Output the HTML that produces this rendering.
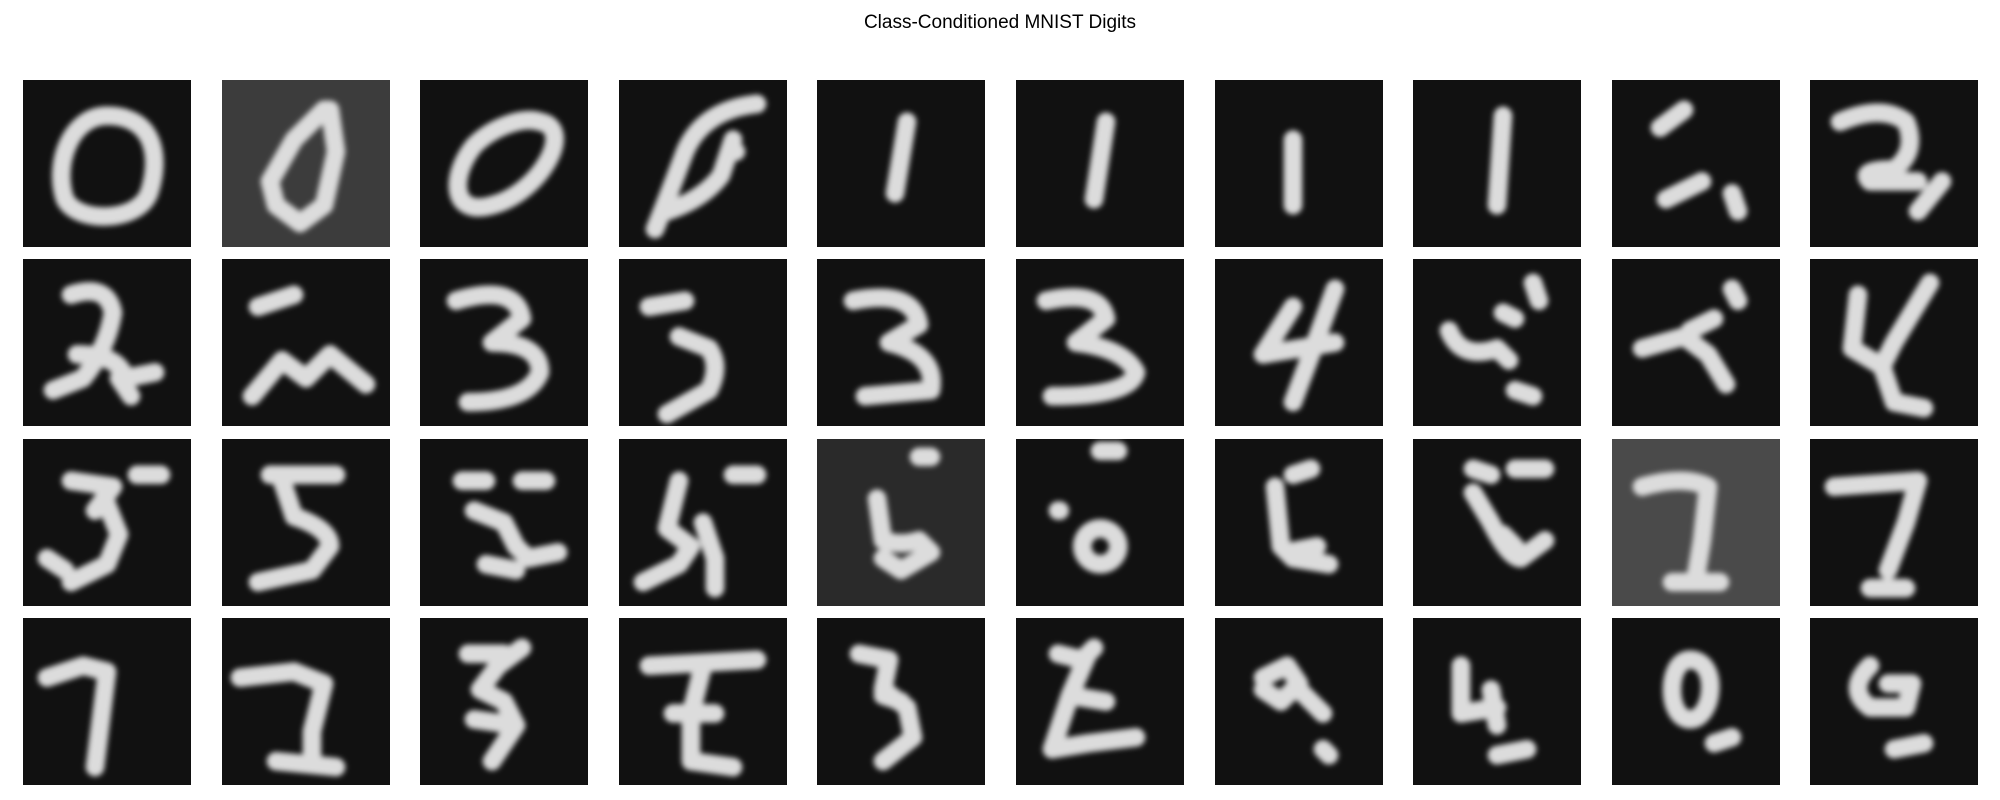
<!DOCTYPE html>
<html><head><meta charset="utf-8">
<style>
html,body{margin:0;padding:0;background:#fff;}
#wrap{position:relative;width:2000px;height:800px;overflow:hidden;background:#fff;font-family:"Liberation Sans",sans-serif;}
#title{position:absolute;left:0;width:2000px;top:12px;text-align:center;font-size:19px;color:#000;}
svg.tile{position:absolute;width:168px;height:167px;}
</style></head>
<body>
<div id="wrap">
<div id="title">Class-Conditioned MNIST Digits</div>
</div>
<script>
const digitPaths = [
 ["M14,6 C22,6 23,13 21,19 C19,24 9,24 7,20 C5,14 8,6 14,6 Z","M17,5 L12,10 L8,17 L9,21 L13,24 L17,21 L19,12 L18,5 Z","M20,7 C26,8 20,19 12,21 C5,23 5,16 9,11 C12,8 17,6 20,7 Z","M23,4 Q14,5 11,12 Q8,20 6,25 M8,22 Q14,20 17,16 L19,10 M19,12 L19.5,12","M15,7 L13,19","M15,7 L13,20","M13,10 L13,21","M15,6 L14,21","M8,8 L12,5 M9,20 L15,17 M20,19 L21,22","M5,7 Q12,4 16,7 Q18,12 14,15 Q8,15 10,17 L18,17 M18,22 L22,17"],
 ["M8,6 Q14,4 15,9 Q14,15 10,20 L5,22 M9,16 Q16,16 17,20 L22,19 M16,20 L18,23","M6,8 L12,6 M5,23 L10,17 L14,20 L18,16 L24,21","M6,7 Q16,4 17,10 L12,14 Q20,14 20,19 Q18,24 8,24","M5,8 L11,7 M10,13 L15,15 Q17,18 15,22 L8,26","M6,7 Q16,5 17,11 L12,14 Q20,16 19,22 L8,23","M5,7 Q14,5 15,10 L10,14 Q18,15 20,19 Q19,23 6,23","M13,8 L8,16 L20,14 M20,5 L16,16 L13,24","M6,12 Q8,17 14,15 L16,17 M15,9 L17,10 M20,4 L21,7 M17,22 L20,23","M5,15 L12,13 L16,16 L19,21 M13,12 L17,10 M20,5 L21,7","M8,6 L7,15 L12,18 L14,24 L19,25 M20,4 L14,14 L12,18"],
 ["M8,7 L15,8 L12,12 M19,6 L23,6 M14,11 L16,16 L14,21 L8,24 M4,20 L7,22","M8,6 L19,6 M10,7 L12,13 Q18,15 18,18 L15,22 L6,24","M7,7 L11,7 M17,7 L21,7 M9,12 L14,14 L16,18 L18,20 L23,19 M11,21 L16,22","M19,6 L23,6 M10,7 L8,15 L12,18 L10,21 L4,24 M14,14 L16,20 L16,25","M17,3 L19,3 M10,10 L11,17 Q14,18 17,17 L19,19 L14,22 L11,20","M14,2 L17,2 M14,15 A3,3 0 1,0 14.1,15 Z M7,12 L7.3,12","M13,6 L16,5 M10,8 L11,18 L13,20 L19,21 M12,19 L17,18","M10,5 L13,6 M17,5 L22,5 M10,9 L13,14 Q16,20 18,20 L22,17 M15,16 L17,18","M5,8 Q12,6 16,8 L15,17 L14,23 M10,24 L18,24","M4,8 L18,7 L16,14 L13,22 M10,25 L16,25"],
 ["M4,10 L10,8 L14,9 L13,17 L12,25","M3,10 L12,9 L17,11 L15,19 L15,24 M9,24 L19,25","M8,6 L14,6 M17,5 L13,8 L10,12 L14,14 L16,18 L12,24 M9,17 L16,18","M5,8 L23,7 M14,8 L12,16 L12,24 L19,25 M9,16 L16,16","M7,6 L12,7 L11,12 L15,15 L16,20 L11,24 M11,13 L14,14","M7,6 L11,7 L13,5 M12,6 L9,13 L15,14 M9,13 L6,22 L12,21 L20,20","M8,10 L12,8 L14,11 L11,14 L8,12 M14,12 L16,14 L18,16 M18,22 L19,23","M8,8 L8,16 L14,15 M13,12 L14,18 M14,23 L19,22","M13,7 C18,7 17,17 13,17 C9,17 9,7 13,7 Z M17,21 L20,20","M10,8 Q6,12 10,15 L16,15 L17,11 L13,11 M14,22 L19,21"]
];
const bgColors = {"0-1":"#3c3c3c","2-4":"#2a2a2a","2-8":"#4a4a4a"};
const wrap = document.getElementById('wrap');
const NS = "http://www.w3.org/2000/svg";
for (let r = 0; r < 4; r++) {
  for (let c = 0; c < 10; c++) {
    const s = document.createElementNS(NS, 'svg');
    s.setAttribute('class', 'tile');
    s.setAttribute('viewBox', '0 0 28 28');
    s.setAttribute('preserveAspectRatio', 'none');
    s.style.left = (23 + c * 198.6) + 'px';
    s.style.top = (80 + r * 179.3) + 'px';
    
    
    const bg = bgColors[r + '-' + c] || '#111111';
    const fid = 'blur-' + r + '-' + c;
    s.innerHTML = '<defs><filter id="' + fid + '" filterUnits="userSpaceOnUse" x="0" y="0" width="28" height="28"><feGaussianBlur stdDeviation="0.45"/></filter></defs>' +
      '<rect width="28" height="28" fill="' + bg + '"/>' +
      '<path d="' + digitPaths[r][c] + '" fill="none" stroke="#dcdcdc" stroke-width="3.1" stroke-linecap="round" stroke-linejoin="round" filter="url(#' + fid + ')"/>';
    wrap.appendChild(s);
  }
}
</script>
</body></html>
